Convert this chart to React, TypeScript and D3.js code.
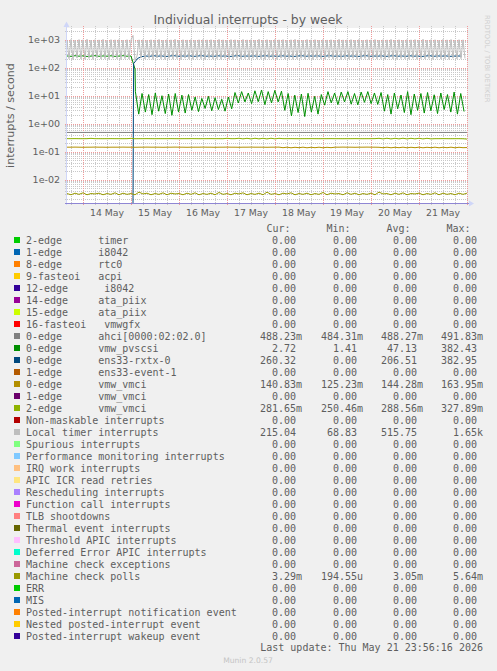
import React from "react";
import * as d3 from "d3";

const W = 497;
const H = 671;
const PL = 67;
const PR = 467;
const PT = 28;
const PB = 203;

const startTime = Date.UTC(2026, 4, 13, 16, 0);
const endTime = Date.UTC(2026, 4, 22, 0, 0);
const HOUR = 3600000;
const Y_MIN = Math.pow(10, -2.832);
const Y_MAX = Math.pow(10, 3.418);

const legendLabels = [
  "2-edge      timer",
  "1-edge      i8042",
  "8-edge      rtc0",
  "9-fasteoi   acpi",
  "12-edge      i8042",
  "14-edge     ata_piix",
  "15-edge     ata_piix",
  "16-fasteoi   vmwgfx",
  "0-edge      ahci[0000:02:02.0]",
  "0-edge      vmw_pvscsi",
  "0-edge      ens33-rxtx-0",
  "1-edge      ens33-event-1",
  "0-edge      vmw_vmci",
  "1-edge      vmw_vmci",
  "2-edge      vmw_vmci",
  "Non-maskable interrupts",
  "Local timer interrupts",
  "Spurious interrupts",
  "Performance monitoring interrupts",
  "IRQ work interrupts",
  "APIC ICR read retries",
  "Rescheduling interrupts",
  "Function call interrupts",
  "TLB shootdowns",
  "Thermal event interrupts",
  "Threshold APIC interrupts",
  "Deferred Error APIC interrupts",
  "Machine check exceptions",
  "Machine check polls",
  "ERR",
  "MIS",
  "Posted-interrupt notification event",
  "Nested posted-interrupt event",
  "Posted-interrupt wakeup event",
];

const legendColors = [
  "#00CC00", "#0066B3", "#FF8000", "#FFCC00", "#330099", "#990099", "#CCFF00", "#FF0000",
  "#808080", "#008F00", "#00487D", "#B35A00", "#B38F00", "#6B006B", "#8FB300", "#B30000",
  "#BEBEBE", "#80FF80", "#80C9FF", "#FFC080", "#FFE680", "#AA80FF", "#EE00CC", "#FF8080",
  "#666600", "#FFBFFF", "#00FFCC", "#CC6699", "#999900", "#00CC00", "#0066B3", "#FF8000",
  "#FFCC00", "#330099",
];

const curVals = [
  "0.00", "0.00", "0.00", "0.00", "0.00", "0.00", "0.00", "0.00",
  "488.23m", "2.72", "260.32", "0.00", "140.83m", "0.00", "281.65m", "0.00",
  "215.04", "0.00", "0.00", "0.00", "0.00", "0.00", "0.00", "0.00",
  "0.00", "0.00", "0.00", "0.00", "3.29m", "0.00", "0.00", "0.00", "0.00", "0.00",
];
const minVals = [
  "0.00", "0.00", "0.00", "0.00", "0.00", "0.00", "0.00", "0.00",
  "484.31m", "1.41", "0.00", "0.00", "125.23m", "0.00", "250.46m", "0.00",
  "68.83", "0.00", "0.00", "0.00", "0.00", "0.00", "0.00", "0.00",
  "0.00", "0.00", "0.00", "0.00", "194.55u", "0.00", "0.00", "0.00", "0.00", "0.00",
];
const avgVals = [
  "0.00", "0.00", "0.00", "0.00", "0.00", "0.00", "0.00", "0.00",
  "488.27m", "47.13", "206.51", "0.00", "144.28m", "0.00", "288.56m", "0.00",
  "515.75", "0.00", "0.00", "0.00", "0.00", "0.00", "0.00", "0.00",
  "0.00", "0.00", "0.00", "0.00", "3.05m", "0.00", "0.00", "0.00", "0.00", "0.00",
];
const maxVals = [
  "0.00", "0.00", "0.00", "0.00", "0.00", "0.00", "0.00", "0.00",
  "491.83m", "382.43", "382.95", "0.00", "163.95m", "0.00", "327.89m", "0.00",
  "1.65k", "0.00", "0.00", "0.00", "0.00", "0.00", "0.00", "0.00",
  "0.00", "0.00", "0.00", "0.00", "5.64m", "0.00", "0.00", "0.00", "0.00", "0.00",
];

// --- series values (hour offsets from the start of the window) ---
const zeroValues = [0, 0]; // whole window at zero

// ahci, every 8 h
const ahciValues = [
  0.488, 0.488, 0.489, 0.488, 0.487, 0.488, 0.488, 0.489, 0.488, 0.488, 0.487, 0.488, 0.488,
  0.489, 0.488, 0.488, 0.487, 0.488, 0.488, 0.489, 0.488, 0.488, 0.488, 0.487, 0.488, 0.488,
];

// vmw_pvscsi before the reboot, every 2 h
const pvscsiBefore = [
  262, 255, 268, 258, 265, 252, 260, 270, 256, 263, 258, 266, 254, 261, 268, 257, 262, 90,
];
// vmw_pvscsi after the reboot, every 1.68 h
const pvscsiAfter = [
  14, 2.2, 12, 2.6, 11, 2.1, 12.5, 2.8, 10, 2.3, 11.5, 2.0, 12, 2.6, 10.5, 2.4, 11,
  3.0, 9, 2.7, 8, 3.5, 9.5, 2.9, 8.5, 3.2, 7.5, 2.8, 9, 3.4,
  13, 5.5, 14, 6, 12.5,
  5.2, 15, 6.1, 16, 4.8, 14, 5.5, 15.5, 6, 14.5,
  3.0, 12, 1.9, 10.5, 2.5, 11.5, 1.8, 12.2, 2.6, 9.5, 2.2, 11,
  4.6, 14, 5.5, 12.5, 4.8, 13.5, 6, 14, 5, 12, 4.7, 13.5, 5.8, 14, 5.2, 12.5, 4.9,
  13, 2.8, 11, 2.2, 12.5, 3.4, 10.6, 2.5, 14, 2.1, 11.5, 3.0, 12, 2.4, 13, 2.9, 10.8, 2.3,
  12.5, 3.2, 11, 2.6, 13.5, 2.2, 12, 2.72,
];

// ens33-rxtx-0 before the reboot, every 2 h starting at hour 1
const ens33Before = [0, 0, 0, 0, 0, 0, 0, 0, 0, 0, 0, 0, 0, 0, 0, 0, 0];
// ens33-rxtx-0 after the reboot, every 2 h starting at hour 33.3
const ens33After = [
  140, 215, 248, 262, 255, 268, 258, 264, 252, 260, 270, 256, 263, 258, 266, 254, 261,
  268, 257, 262, 255, 266, 259, 263, 252, 260, 269, 256, 262, 258, 265, 254, 261, 267,
  257, 263, 255, 266, 258, 262, 252, 261, 268, 256, 263, 259, 265, 254, 260, 267, 258,
  262, 255, 266, 259, 263, 253, 260, 269, 256, 262, 258, 265, 254, 261, 267, 257, 263,
  255, 266, 258, 262, 252, 261, 268, 256, 263, 259, 265, 254, 260, 262, 260,
];

// vmw_vmci 0-edge, every 2 h
const vmci0Values = [
  0.145, 0.145, 0.146, 0.145, 0.144, 0.145, 0.145, 0.146, 0.145, 0.145, 0.144, 0.145, 0.145,
  0.145, 0.146, 0.145, 0.145, 0.144, 0.145, 0.145, 0.146, 0.145, 0.145, 0.145, 0.144, 0.145,
  0.145, 0.146, 0.145, 0.145, 0.144, 0.145, 0.145, 0.145, 0.146, 0.145, 0.145, 0.144, 0.145,
  0.145, 0.146, 0.145, 0.145, 0.144, 0.145, 0.145, 0.146, 0.145, 0.145, 0.145, 0.144, 0.145,
  0.145, 0.146, 0.139, 0.145, 0.138, 0.144, 0.139, 0.145, 0.138, 0.144, 0.139, 0.145, 0.138,
  0.144, 0.139, 0.145, 0.145, 0.146, 0.145, 0.145, 0.144, 0.145, 0.145, 0.146, 0.145, 0.145,
  0.144, 0.139, 0.145, 0.138, 0.144, 0.139, 0.145, 0.138, 0.144, 0.139, 0.145, 0.138, 0.144,
  0.139, 0.145, 0.138, 0.144, 0.139, 0.145, 0.138, 0.144, 0.139, 0.1408,
];

// vmw_vmci 2-edge, every 2 h
const vmci2Values = [
  0.292, 0.292, 0.293, 0.292, 0.291, 0.292, 0.300, 0.292, 0.292, 0.291, 0.292, 0.293, 0.292,
  0.292, 0.291, 0.292, 0.300, 0.290, 0.292, 0.292, 0.293, 0.292, 0.291, 0.292, 0.292, 0.292,
  0.293, 0.292, 0.291, 0.292, 0.292, 0.293, 0.292, 0.291, 0.292, 0.292, 0.293, 0.292, 0.292,
  0.291, 0.301, 0.292, 0.292, 0.302, 0.287, 0.301, 0.286, 0.302, 0.287, 0.301, 0.286, 0.302,
  0.287, 0.301, 0.292, 0.292, 0.293, 0.292, 0.291, 0.292, 0.292, 0.293, 0.292, 0.291, 0.292,
  0.292, 0.293, 0.292, 0.292, 0.291, 0.292, 0.292, 0.293, 0.292, 0.291, 0.292, 0.292, 0.293,
  0.301, 0.287, 0.302, 0.286, 0.301, 0.287, 0.302, 0.286, 0.301, 0.287, 0.302, 0.286, 0.301,
  0.287, 0.292, 0.292, 0.293, 0.292, 0.291, 0.292, 0.292, 0.290, 0.2816,
];

// Local timer interrupts, every hour
const locValues = [
  980, 210, 1020, 195, 960, 220, 1010, 205, 990, 200, 1040, 215, 970, 198, 1000, 225, 985, 205, 1030, 210,
  965, 200, 1005, 218, 990, 207, 1015, 196, 975, 212, 1000, 205, 980, 1420, 180, 260, 990, 220, 1010, 205,
  960, 215, 1000, 200, 985, 222, 1025, 208, 970, 199, 1010, 214, 990, 203, 1035, 211, 975, 196, 1000, 219,
  980, 206, 1015, 200, 965, 213, 995, 209, 1020, 197, 985, 216, 1005, 204, 970, 210, 1030, 201, 990, 218,
  975, 207, 1010, 199, 995, 214, 960, 203, 1020, 211, 985, 198, 1005, 216, 970, 205, 1040, 209, 980, 200,
  1000, 213, 965, 206, 1025, 198, 990, 217, 1010, 204, 975, 211, 995, 200, 1030, 208, 985, 215, 960, 203,
  1015, 209, 990, 197, 1005, 214, 970, 206, 1020, 201, 980, 218, 1000, 205, 965, 212, 1035, 199, 985, 210,
  995, 204, 1010, 216, 975, 200, 1025, 208, 960, 213, 1000, 197, 990, 215, 1015, 206, 970, 211, 1005, 202,
  985, 217, 1030, 205, 975, 199, 1000, 212, 965, 208, 1020, 203, 990, 216, 1010, 200, 980, 210, 1040, 206,
  970, 213, 1005, 198, 995, 215, 960, 204, 1025, 209, 985, 201, 1015, 217, 975, 207, 1000, 211, 990, 215,
];

// Machine check polls, every 2 h
const mcpValues = [
  0.0032, 0.0029, 0.0033, 0.0030, 0.0034, 0.0029, 0.0032, 0.0031, 0.0033, 0.0029,
  0.0032, 0.0030, 0.0034, 0.0029, 0.0033, 0.0030, 0.0032, 0.0029, 0.0036, 0.0031,
  0.0033, 0.0029, 0.0032, 0.0030, 0.0034, 0.0029, 0.0033, 0.0031, 0.0032, 0.0029,
  0.0033, 0.0030, 0.0034, 0.0029, 0.0032, 0.0030, 0.0033, 0.0029, 0.0035, 0.0030,
  0.0032, 0.0029, 0.0033, 0.0031, 0.0034, 0.0029, 0.0032, 0.0030, 0.0033, 0.0029,
  0.0036, 0.0030, 0.0032, 0.0029, 0.0033, 0.0031, 0.0034, 0.0029, 0.0032, 0.0030,
  0.0033, 0.0029, 0.0032, 0.0030, 0.0035, 0.0029, 0.0033, 0.0031, 0.0032, 0.0029,
  0.0034, 0.0030, 0.0033, 0.0029, 0.0032, 0.0030, 0.0033, 0.0029, 0.0036, 0.0031,
  0.0032, 0.0029, 0.0033, 0.0030, 0.0034, 0.0029, 0.0032, 0.0031, 0.0033, 0.0029,
  0.0032, 0.0030, 0.0034, 0.0029, 0.0033, 0.0030, 0.0032, 0.0029, 0.0033, 0.0030,
  0.0033,
];

type Seg = { start: number; step: number; values: number[] };

const ZERO: Seg[] = [{ start: 0, step: 200, values: zeroValues }];
const seriesSegs: Seg[][] = legendLabels.map(() => ZERO);
seriesSegs[8] = [{ start: 0, step: 8, values: ahciValues }];
seriesSegs[9] = [
  { start: 0, step: 2, values: pvscsiBefore },
  { start: 34.2, step: 1.66, values: pvscsiAfter },
];
seriesSegs[10] = [
  { start: 1, step: 2, values: ens33Before },
  { start: 33.3, step: 2, values: ens33After },
];
seriesSegs[12] = [{ start: 0, step: 2, values: vmci0Values }];
seriesSegs[14] = [{ start: 0, step: 2, values: vmci2Values }];
seriesSegs[16] = [{ start: 0, step: 1, values: locValues }];
seriesSegs[28] = [{ start: 0, step: 2, values: mcpValues }];

const FONT = "'DejaVu Sans', Verdana, sans-serif";
const MONO = "'DejaVu Sans Mono', monospace";
const TXT = "#5e5e5e";

export default function App() {
  const x = d3
    .scaleUtc()
    .domain([new Date(startTime), new Date(endTime)])
    .range([PL, PR]);
  const y = d3.scaleLog().domain([Y_MIN, Y_MAX]).range([PB, PT]);

  // values at or below the floor of the log axis sit on the x axis
  const yOf = (v: number) => (v > Y_MIN ? y(v) : PB + 0.5);

  const line = d3
    .line<[number, number]>()
    .x((d) => x(new Date(startTime + d[0] * HOUR)))
    .y((d) => yOf(d[1]));

  const paths = seriesSegs.map((segs) => {
    const pts: [number, number][] = [];
    segs.forEach((s) => s.values.forEach((v, i) => pts.push([s.start + i * s.step, v])));
    return line(pts) || "";
  });

  // grid
  const minorY: number[] = [];
  const majorY: number[] = [];
  for (let d = -3; d <= 3; d++) {
    for (let k = 1; k <= 9; k++) {
      const v = k * Math.pow(10, d);
      if (v < Y_MIN || v > Y_MAX) continue;
      if (k === 1) majorY.push(v);
      else minorY.push(v);
    }
  }
  const sixH = d3.utcHour.every(6)!.range(new Date(startTime), new Date(endTime + 1));
  const days = d3.utcDay.range(new Date(startTime), new Date(endTime + 1));
  const noon = d3.utcDay
    .range(new Date(startTime), new Date(endTime))
    .map((d) => new Date(d.getTime() + 12 * HOUR))
    .filter((d) => d.getTime() > startTime && d.getTime() < endTime);
  const fmtDay = d3.utcFormat("%-d %b");
  const fmtExp = (v: number) => {
    const e = Math.round(Math.log10(v));
    return "1e" + (e >= 0 ? "+" : "-") + String(Math.abs(e)).padStart(2, "0");
  };

  const rowY0 = 243.6;
  const rowH = 12;
  const colEnds = [296, 357, 417, 477];
  const splitVal = (s: string) => {
    const last = s[s.length - 1];
    if (/[a-zA-Z]/.test(last)) return [s.slice(0, -1), last];
    return [s, ""];
  };

  return (
    <svg width={W} height={H} style={{ display: "block", position: "absolute", left: 0, top: 0 }}>
      <rect x={0} y={0} width={W} height={H} fill="#F0F0F0" />
      <text x={248} y={24} textAnchor="middle" fontFamily={FONT} fontSize={12.4} fill={TXT}>
        Individual interrupts - by week
      </text>
      <text
        transform="translate(485,15) rotate(90)"
        fontFamily={FONT}
        fontSize={6.8}
        fill="#cfcfcf"
      >
        RRDTOOL / TOBI OETIKER
      </text>
      <text
        transform={`translate(14,${(PT + PB) / 2}) rotate(-90)`}
        textAnchor="middle"
        fontFamily={FONT}
        fontSize={11.1}
        fill={TXT}
      >
        interrupts / second
      </text>

      <rect x={PL} y={PT} width={PR - PL} height={PB - PT} fill="#FFFFFF" />

      {/* minor grid */}
      <g stroke="#c8c8c8" strokeWidth={1} strokeDasharray="1,1" shapeRendering="crispEdges">
        {minorY.map((v, i) => {
          const yy = Math.round(y(v)) + 0.5;
          return <line key={"mh" + i} x1={PL - 2} x2={PR + 2} y1={yy} y2={yy} />;
        })}
        {sixH
          .filter((d) => d.getUTCHours() !== 0)
          .map((d, i) => {
            const xx = Math.round(x(d)) + 0.5;
            return <line key={"mv" + i} x1={xx} x2={xx} y1={PT - 2} y2={PB + 2} />;
          })}
      </g>
      {/* major grid */}
      <g stroke="#f09a9a" strokeWidth={1} strokeDasharray="1,1" shapeRendering="crispEdges">
        {majorY.map((v, i) => {
          const yy = Math.round(y(v)) + 0.5;
          return <line key={"Mh" + i} x1={PL - 2} x2={PR + 2} y1={yy} y2={yy} />;
        })}
        {days.map((d, i) => {
          const xx = Math.round(x(d)) + 0.5;
          return <line key={"Mv" + i} x1={xx} x2={xx} y1={PT - 2} y2={PB + 2} />;
        })}
      </g>

      {/* y tick labels */}
      {majorY.map((v, i) => (
        <text
          key={"yl" + i}
          x={60}
          y={y(v) + 3.4}
          textAnchor="end"
          fontFamily={FONT}
          fontSize={9.5}
          fill={TXT}
        >
          {fmtExp(v)}
        </text>
      ))}
      {/* x tick labels */}
      {noon.map((d, i) => (
        <text
          key={"xl" + i}
          x={x(d)}
          y={216}
          textAnchor="middle"
          fontFamily={FONT}
          fontSize={9.3}
          fill={TXT}
        >
          {fmtDay(d)}
        </text>
      ))}

      {/* series */}
      <defs>
        <clipPath id="plotclip">
          <rect x={PL} y={PT} width={PR - PL} height={PB - PT + 1} />
        </clipPath>
      </defs>
      <g clipPath="url(#plotclip)" fill="none">
        {paths.map((p, i) => (
          <path key={"s" + i} d={p} stroke={legendColors[i]} strokeWidth={1} />
        ))}
      </g>

      {/* axes */}
      <line x1={PL - 0.5} x2={PL - 0.5} y1={PB + 2} y2={PT - 2} stroke="#CFD6F8" strokeWidth={1} />
      <path d={`M${PL - 3.5},${PT - 1} L${PL + 2.5},${PT - 1} L${PL - 0.5},${PT - 6.5} Z`} fill="#CFD6F8" />
      <line x1={PL - 2} x2={PR + 3} y1={PB + 0.5} y2={PB + 0.5} stroke="#8f86d4" strokeWidth={1} />
      <path d={`M${PR + 2},${PB - 2.5} L${PR + 2},${PB + 3.5} L${PR + 7},${PB + 0.5} Z`} fill="#CFD6F8" />

      {/* legend header */}
      {["Cur:", "Min:", "Avg:", "Max:"].map((h, i) => (
        <text
          key={"h" + i}
          x={266.5 + i * 60}
          y={231.6}
          fontFamily={MONO}
          fontSize={10}
          fill={TXT}
        >
          {h}
        </text>
      ))}

      {legendLabels.map((lab, i) => {
        const by = rowY0 + i * rowH;
        const cols = [curVals[i], minVals[i], avgVals[i], maxVals[i]];
        return (
          <g key={"lg" + i}>
            <rect x={14} y={by - 6.6} width={6} height={6} fill={legendColors[i]} />
            <text
              x={26}
              y={by}
              fontFamily={MONO}
              fontSize={10}
              fill={TXT}
              style={{ whiteSpace: "pre" }}
            >
              {lab}
            </text>
            {cols.map((c, j) => {
              const [num, suf] = splitVal(c);
              return (
                <g key={"c" + j}>
                  <text
                    x={colEnds[j]}
                    y={by}
                    textAnchor="end"
                    fontFamily={MONO}
                    fontSize={10}
                    fill={TXT}
                  >
                    {num}
                  </text>
                  {suf && (
                    <text x={colEnds[j]} y={by} fontFamily={MONO} fontSize={10} fill={TXT}>
                      {suf}
                    </text>
                  )}
                </g>
              );
            })}
          </g>
        );
      })}

      <text x={483} y={650.6} textAnchor="end" fontFamily={MONO} fontSize={10} fill={TXT} style={{ whiteSpace: "pre" }}>
        Last update: Thu May 21 23:56:16 2026
      </text>
      <text x={248} y={662.5} textAnchor="middle" fontFamily={FONT} fontSize={7.6} fill="#c4c4c4">
        Munin 2.0.57
      </text>
    </svg>
  );
}
